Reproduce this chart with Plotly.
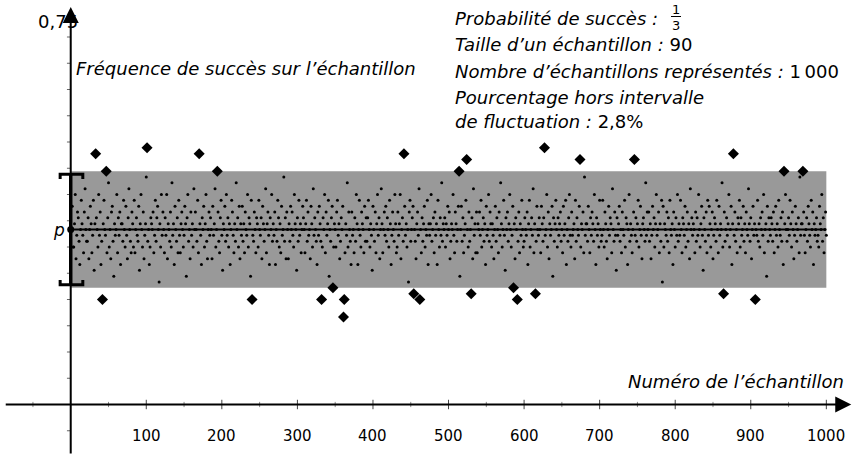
import math
import plotly.graph_objects as go

# ---------------- data ----------------
p_num, p_den = 1, 3            # probabilité de succès
n_size = 90                    # taille d'un échantillon
n_samples = 1000               # nombre d'échantillons
pct_out_text = "2,8%"

# samples lying outside the fluctuation interval (index, number of successes)
outlier_idx = [33, 42, 47, 101, 170, 194, 240, 332, 347, 361, 362, 441, 454, 462,
               514, 524, 530, 586, 591, 615, 627, 674, 746, 864, 877, 906, 944, 969]
outlier_k = [43, 18, 40, 44, 43, 40, 18, 18, 20, 15, 18, 43, 19, 18,
             40, 42, 19, 20, 18, 19, 44, 42, 42, 19, 43, 18, 40, 40]

# number of successes of the other samples, in order (estimated)
inside_k = [
    30,34,27,27,31,36,25,29,33,32,28,24,30,35,31,29,26,33,37,30,
    28,28,32,25,30,34,31,26,29,35,23,31,32,30,27,36,29,33,24,28,
    31,35,30,29,26,32,38,27,30,25,33,34,28,22,31,29,30,36,26,32,
    29,33,24,31,31,28,35,30,27,34,29,25,32,37,30,28,26,33,31,27,
    35,26,30,32,29,28,34,23,31,36,30,27,33,25,29,31,39,28,30,24,
    27,32,31,30,33,26,29,35,28,32,34,30,21,31,27,36,29,33,30,26,
    32,29,36,25,31,30,28,33,27,38,29,31,24,34,30,28,32,26,35,29,
    26,31,33,30,27,29,34,31,22,32,36,28,30,25,33,29,31,27,37,30,
    33,30,28,35,26,31,29,24,32,30,34,27,31,36,28,25,30,33,29,32,
    30,25,34,29,31,37,27,30,33,28,26,32,35,29,23,31,30,34,28,36,
    29,32,27,31,24,30,35,33,29,26,31,28,38,30,32,27,34,25,31,29,
    34,28,31,26,33,30,29,36,27,32,31,22,35,29,28,33,30,26,32,31,
    27,35,30,29,32,25,34,31,28,30,37,26,31,33,29,24,32,30,36,28,
    31,29,33,24,30,28,35,32,27,31,26,34,29,30,39,28,32,25,33,30,
    25,31,28,34,30,33,29,27,36,31,30,23,32,28,35,29,31,26,30,34,
    32,30,26,31,35,28,33,29,30,25,34,31,27,37,29,32,30,28,24,33,
    29,34,31,28,27,32,30,36,26,33,29,31,35,22,30,28,32,34,27,31,
    30,27,33,35,29,31,25,28,32,30,34,26,31,29,38,27,33,30,28,24,
    33,29,30,26,32,28,36,31,24,30,35,29,27,33,31,30,26,34,28,32,
    28,32,35,30,27,31,29,23,34,30,28,33,26,31,36,29,32,25,30,37,
    31,26,30,33,29,34,28,32,30,27,35,31,24,29,33,30,28,36,31,26,
    27,33,29,31,36,25,30,32,28,34,29,31,27,30,21,33,35,28,30,32,
    34,30,28,25,31,33,29,37,30,26,32,28,31,34,27,30,29,35,24,31,
    29,31,36,28,30,32,26,33,29,31,24,35,30,27,32,29,38,28,31,30,
    32,27,31,29,34,30,33,25,28,31,30,36,29,26,33,31,28,30,34,22,
    30,34,28,32,26,29,31,35,30,27,33,28,30,32,25,37,29,31,26,33,
    26,31,30,33,29,35,27,30,32,28,31,24,34,29,30,36,28,33,31,27,
    31,29,25,30,34,28,32,30,26,33,29,38,31,27,30,35,29,23,32,30,
    33,28,31,36,30,27,29,34,31,25,32,30,28,33,26,31,29,35,30,27,
    28,32,30,29,33,24,31,35,27,30,32,29,37,26,31,28,34,30,29,32,
    30,26,34,31,28,32,29,30,36,27,33,25,31,29,30,34,22,32,28,31,
    35,30,27,32,29,31,33,28,30,26,34,29,31,35,24,30,28,32,36,29,
    27,33,29,30,31,25,35,28,32,30,29,34,27,31,30,33,26,39,29,31,
    31,28,34,30,26,32,29,33,31,28,36,30,24,32,29,31,27,35,30,28,
    29,35,30,27,33,31,28,25,30,34,29,32,31,26,37,30,28,33,29,23,
    32,29,31,34,28,30,26,33,30,29,35,27,32,31,24,30,36,28,31,29,
    26,30,33,29,32,28,31,35,27,30,34,29,25,31,32,30,28,38,29,33,
    30,33,28,31,25,29,34,30,32,27,31,36,29,30,33,26,31,28,35,21,
    34,27,31,30,29,33,28,32,26,35,30,29,31,24,33,30,27,32,29,36,
    28,31,29,35,30,26,32,31,29,34,27,30,33,28,31,25,37,30,32,29,
    31,30,26,33,28,32,29,36,30,27,31,34,29,23,32,30,28,33,26,35,
    29,34,31,27,30,33,25,29,32,31,28,35,30,26,34,29,31,30,38,27,
    33,28,30,32,29,31,36,27,30,34,24,31,29,33,28,30,26,32,31,35,
    27,32,29,30,34,28,31,26,33,30,29,37,31,28,32,25,30,34,29,31,
    30,29,35,28,31,27,32,30,33,29,36,26,30,31,22,34,28,32,30,29,
    32,31,28,33,26,30,34,29,31,27,35,30,29,32,28,33,24,31,36,30,
    28,30,32,29,35,31,27,33,30,25,29,34,31,28,30,32,26,39,29,31,
    31,33,29,26,30,32,28,34,31,29,27,35,30,33,24,31,29,30,32,28,
    29,27,34,31,30,36,28,32,26,30,33,29,31,25,34,30,28,32,37,30,
    33,30,28,31,29,35,27,31,30,34,26,32,29,30,28,33,31,23,30,29,
]

x_ticks = [100, 200, 300, 400, 500, 600, 700, 800, 900, 1000]
x_tick_labels = ["100", "200", "300", "400", "500", "600", "700", "800", "900", "1000"]
x_minor_ticks = [-50, 50, 150, 250, 350, 450, 550, 650, 750, 850, 950]
y_tick_step = 0.05
y_top_value = 0.75
y_top_label = "0,75"

# ---------------- derived values ----------------
p = p_num / p_den
half = 1 / math.sqrt(n_size)
lo, hi = p - half, p + half
band_lo, band_hi = lo - 1 / (2 * n_size), hi + 1 / (2 * n_size)

out_map = dict(zip(outlier_idx, outlier_k))
xs, ks = [], []
it = iter(inside_k)
for i in range(1, n_samples + 1):
    if i in out_map:
        k = out_map[i]
    else:
        k = next(it, None)
        if k is None:
            continue
    xs.append(i)
    ks.append(k)
freq = [k / n_size for k in ks]
in_x = [x for x, f in zip(xs, freq) if lo <= f <= hi]
in_y = [f for f in freq if lo <= f <= hi]
out_x = [x for x, f in zip(xs, freq) if not (lo <= f <= hi)]
out_y = [f for f in freq if not (lo <= f <= hi)]

# ---------------- layout geometry ----------------
W, H = 853, 455
X_RANGE = [-93.6, 1035.3]
Y_RANGE = [-0.0962, 0.7705]


def px(x):
    return x / W


def py(y):
    return 1 - y / H


FONT = "DejaVu Sans"
BLACK = "#000000"
TXT = 18

fig = go.Figure()

fig.add_trace(go.Scatter(x=in_x, y=in_y, mode="markers",
                         marker=dict(symbol="circle", size=3, color=BLACK),
                         hoverinfo="skip", showlegend=False))
fig.add_trace(go.Scatter(x=out_x, y=out_y, mode="markers",
                         marker=dict(symbol="diamond", size=8.5, color=BLACK),
                         hoverinfo="skip", showlegend=False))
fig.add_trace(go.Scatter(x=[0], y=[p], mode="markers",
                         marker=dict(symbol="circle", size=7, color=BLACK),
                         hoverinfo="skip", showlegend=False))

shapes = []
# fluctuation band
shapes.append(dict(type="rect", xref="x", yref="y", x0=0, x1=n_samples,
                   y0=band_lo, y1=band_hi, fillcolor="#999999",
                   line=dict(width=0), layer="below"))
# p line
shapes.append(dict(type="line", xref="x", yref="y", x0=0, x1=n_samples,
                   y0=p, y1=p, line=dict(color=BLACK, width=2), layer="above"))
# x ticks
for t in x_ticks:
    shapes.append(dict(type="line", xref="x", yref="y", x0=t, x1=t,
                       y0=-0.009, y1=0.009, line=dict(color="#444444", width=1)))
for t in x_minor_ticks:
    shapes.append(dict(type="line", xref="x", yref="y", x0=t, x1=t,
                       y0=-0.005, y1=0.005, line=dict(color="#888888", width=1)))
# y ticks
nt = int(round(y_top_value / y_tick_step))
for j in range(-1, nt):
    if j == 0:
        continue
    yv = j * y_tick_step
    shapes.append(dict(type="line", xref="x", yref="y", x0=-5, x1=0,
                       y0=yv, y1=yv, line=dict(color="#666666", width=1)))
# bracket of the interval on the y axis
hook = 0.009
xl, xr = -14, 16
shapes.append(dict(type="path", xref="x", yref="y",
                   path=f"M {xl},{hi - hook} L {xl},{hi} L {xr},{hi} L {xr},{hi - hook}",
                   line=dict(color=BLACK, width=3)))
shapes.append(dict(type="path", xref="x", yref="y",
                   path=f"M {xl},{lo + hook} L {xl},{lo} L {xr},{lo} L {xr},{lo + hook}",
                   line=dict(color=BLACK, width=3)))
shapes.append(dict(type="line", xref="x", yref="y", x0=0, x1=0, y0=lo, y1=hi,
                   line=dict(color=BLACK, width=3.5)))

annotations = []
# label of the top of the y axis (drawn first so the axis arrow lies over it)
annotations.append(dict(x=px(58), y=py(21), xref="paper", yref="paper",
                        text=y_top_label, showarrow=False, xanchor="center",
                        yanchor="middle", font=dict(family=FONT, size=18, color=BLACK)))
# axes with arrows
annotations.append(dict(x=1033, y=0, ax=-88, ay=0, xref="x", yref="y",
                        axref="x", ayref="y", text="", showarrow=True,
                        arrowhead=2, arrowsize=1.6, arrowwidth=2, arrowcolor=BLACK))
annotations.append(dict(x=0, y=0.757, ax=0, ay=Y_RANGE[0], xref="x", yref="y",
                        axref="x", ayref="y", text="", showarrow=True,
                        arrowhead=2, arrowsize=1.6, arrowwidth=2, arrowcolor=BLACK))

# tick labels
for t, lab in zip(x_ticks, x_tick_labels):
    annotations.append(dict(x=t, y=py(436), xref="x", yref="paper", text=lab,
                            showarrow=False, xanchor="center", yanchor="middle",
                            font=dict(family=FONT, size=15, color=BLACK)))
annotations.append(dict(x=px(59), y=p, xref="paper", yref="y", text="<i>p</i>",
                        showarrow=False, xanchor="center", yanchor="middle",
                        font=dict(family=FONT, size=17, color=BLACK)))

# axis titles
annotations.append(dict(x=px(74), y=py(68), xref="paper", yref="paper",
                        text="<i>Fréquence de succès sur l’échantillon</i>",
                        showarrow=False, xanchor="left", yanchor="middle",
                        font=dict(family=FONT, size=TXT, color=BLACK)))
annotations.append(dict(x=px(846), y=py(381), xref="paper", yref="paper",
                        text="<i>Numéro de l’échantillon</i>",
                        showarrow=False, xanchor="right", yanchor="middle",
                        font=dict(family=FONT, size=TXT, color=BLACK)))

# info block
info_lines = [
    "<i>Probabilité de succès :</i>",
    f"<i>Taille d’un échantillon :</i> {n_size}",
    f"<i>Nombre d’échantillons représentés :</i> {n_samples // 1000}\u2009{n_samples % 1000:03d}",
    "<i>Pourcentage hors intervalle</i>",
    f"<i>de fluctuation :</i> {pct_out_text}",
]
line_y = [19, 45, 71, 97, 122]
for txt, yy in zip(info_lines, line_y):
    annotations.append(dict(x=px(453), y=py(yy), xref="paper", yref="paper",
                            text=txt, showarrow=False, xanchor="left",
                            yanchor="middle",
                            font=dict(family=FONT, size=TXT, color=BLACK)))
# stacked fraction 1/3
fx = 676
annotations.append(dict(x=px(fx), y=py(9), xref="paper", yref="paper",
                        text=str(p_num), showarrow=False, xanchor="center",
                        yanchor="middle", font=dict(family=FONT, size=13, color=BLACK)))
annotations.append(dict(x=px(fx), y=py(25), xref="paper", yref="paper",
                        text=str(p_den), showarrow=False, xanchor="center",
                        yanchor="middle", font=dict(family=FONT, size=13, color=BLACK)))
shapes.append(dict(type="line", xref="paper", yref="paper",
                   x0=px(fx - 5), x1=px(fx + 5), y0=py(16.5), y1=py(16.5),
                   line=dict(color=BLACK, width=1)))

fig.update_layout(
    width=W, height=H,
    margin=dict(l=0, r=0, t=0, b=0),
    paper_bgcolor="white", plot_bgcolor="white",
    xaxis=dict(range=X_RANGE, visible=False, fixedrange=True),
    yaxis=dict(range=Y_RANGE, visible=False, fixedrange=True),
    shapes=shapes, annotations=annotations, showlegend=False,
)

fig.write_html("out.html", config={"displayModeBar": False},
               post_script="document.body.style.margin='0px';document.body.style.overflow='hidden';")
